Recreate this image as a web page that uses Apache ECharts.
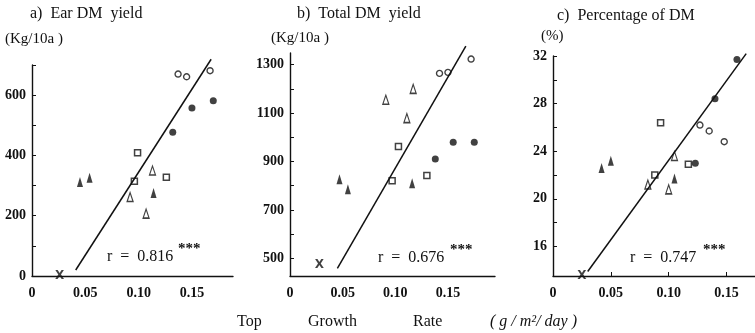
<!DOCTYPE html>
<html><head><meta charset="utf-8">
<script src="https://cdn.jsdelivr.net/npm/echarts@6/dist/echarts.min.js"></script>
<style>html,body{margin:0;padding:0;background:#fff}#c{width:755px;height:333px}</style>
</head><body><div id="c"></div>
<script>
// ---- tick labels ----
const xTicks = [0, 0.05, 0.10, 0.15];
const aYLabels = [0, 200, 400, 600];
const aYTicks = [0, 100, 200, 300, 400, 500, 600, 700];
const bYLabels = [500, 700, 900, 1100, 1300];
const bYTicks = [500, 600, 700, 800, 900, 1000, 1100, 1200, 1300];
const cYLabels = [16, 20, 24, 28, 32];
const cYTicks = [16, 18, 20, 22, 24, 26, 28, 30, 32];

// ---- a) Ear DM yield (kg/10a) vs top growth rate ----
const aOpenCircle = [[0.137, 670], [0.145, 661], [0.167, 681]];
const aFilledCircle = [[0.132, 477], [0.150, 557], [0.170, 581]];
const aOpenSquare = [[0.096, 314], [0.099, 409], [0.126, 328]];
const aOpenTriangle = [[0.092, 262], [0.107, 207], [0.113, 350]];
const aFilledTriangle = [[0.045, 312], [0.054, 326], [0.114, 275]];
const aCross = [[0.026, 0]];
const aFit = [[0.041, 20], [0.168, 719]];

// ---- b) Total DM yield (kg/10a) ----
const bOpenCircle = [[0.142, 1264], [0.150, 1268], [0.172, 1323]];
const bFilledCircle = [[0.138, 910], [0.155, 979], [0.175, 979]];
const bOpenSquare = [[0.097, 820], [0.103, 962], [0.130, 842]];
const bOpenTriangle = [[0.091, 1155], [0.111, 1079], [0.117, 1200]];
const bFilledTriangle = [[0.047, 827], [0.055, 785], [0.116, 810]];
const bCross = [[0.028, 472]];
const bFit = [[0.045, 459], [0.167, 1376]];

// ---- c) Percentage of DM (%) ----
const cOpenCircle = [[0.127, 26.2], [0.135, 25.7], [0.148, 24.8]];
const cFilledCircle = [[0.123, 23.0], [0.140, 28.4], [0.159, 31.7]];
const cOpenSquare = [[0.088, 22.0], [0.093, 26.4], [0.117, 22.9]];
const cOpenTriangle = [[0.082, 21.2], [0.100, 20.8], [0.105, 23.6]];
const cFilledTriangle = [[0.042, 22.6], [0.050, 23.2], [0.105, 21.7]];
const cCross = [[0.025, 13.55]];
const cFit = [[0.030, 13.9], [0.167, 32.2]];

const INK = '#111';
const FONT = 'Liberation Serif';
const TRI = 'path://M5,0L10,16L0,16Z';

function grid(left, top, width, height) { return { left, top, width, height }; }

function xAxis(i, max, ticks) {
  return {
    type: 'value', gridIndex: i, min: 0, max: max,
    axisLine: { show: true, onZero: false, lineStyle: { color: INK, width: 1.4 } },
    axisTick: ticks ? { show: true, inside: true, length: 4, customValues: xTicks.slice(1), lineStyle: { color: INK } } : { show: false },
    splitLine: { show: false },
    axisLabel: {
      customValues: xTicks, margin: 10, color: INK, fontFamily: FONT, fontSize: 14, fontWeight: 'bold',
      formatter: v => v === 0 ? '0' : v.toFixed(2)
    }
  };
}
function yAxis(i, min, max, labels, ticks) {
  return {
    type: 'value', gridIndex: i, min, max,
    axisLine: { show: true, onZero: false, lineStyle: { color: INK, width: 1.4 } },
    axisTick: { show: true, inside: true, length: 4, customValues: ticks, lineStyle: { color: INK } },
    splitLine: { show: false },
    axisLabel: { customValues: labels, margin: 6, color: INK, fontFamily: FONT, fontSize: 14, fontWeight: 'bold',
      formatter: v => String(v) }
  };
}

function panelSeries(i, oc, fc, os, ot, ft, cross, fit) {
  const base = { type: 'scatter', xAxisIndex: i, yAxisIndex: i, clip: false, animation: false };
  return [
    { ...base, data: oc, symbol: 'circle', symbolSize: 6, itemStyle: { color: '#fff', borderColor: INK, borderWidth: 1.4 } },
    { ...base, data: fc, symbol: 'circle', symbolSize: 7, itemStyle: { color: INK } },
    { ...base, data: os, symbol: 'rect', symbolSize: 6, itemStyle: { color: '#fff', borderColor: INK, borderWidth: 1.5 } },
    { ...base, data: ot, symbol: TRI, symbolSize: [6, 9], itemStyle: { color: '#fff', borderColor: INK, borderWidth: 1.3 } },
    { ...base, data: ft, symbol: TRI, symbolSize: [6, 10], itemStyle: { color: INK } },
    { ...base, data: cross, symbolSize: 1, itemStyle: { color: 'rgba(0,0,0,0)' },
      label: { show: true, position: 'inside', formatter: 'X', color: INK, fontFamily: 'DejaVu Sans', fontSize: 12, fontWeight: 'bold' } },
    { type: 'line', xAxisIndex: i, yAxisIndex: i, data: fit, clip: false, symbol: 'none', animation: false,
      lineStyle: { color: INK, width: 1.5 } }
  ];
}

function txt(left, top, text, font) {
  return { type: 'text', left, top, style: { text, fill: INK, font } };
}
const T16 = '16px "' + FONT + '"';
const T15 = '15px "' + FONT + '"';
const R15 = '16px "' + FONT + '"';
const STAR = 'bold 15px "' + FONT + '"';

const chart = echarts.init(document.getElementById('c'), null, { renderer: 'canvas' });
chart.setOption({
  backgroundColor: '#fff',
  animation: false,
  grid: [grid(32, 65, 201, 211), grid(290, 53, 205, 223), grid(553, 56, 202, 220)],
  xAxis: [xAxis(0, 0.1885, false), xAxis(1, 0.1947, false), xAxis(2, 0.1746, true)],
  yAxis: [
    yAxis(0, 0, 700, aYLabels, aYTicks),
    yAxis(1, 427, 1348, bYLabels, bYTicks),
    yAxis(2, 13.52, 32, cYLabels, cYTicks)
  ],
  series: [
    ...panelSeries(0, aOpenCircle, aFilledCircle, aOpenSquare, aOpenTriangle, aFilledTriangle, aCross, aFit),
    ...panelSeries(1, bOpenCircle, bFilledCircle, bOpenSquare, bOpenTriangle, bFilledTriangle, bCross, bFit),
    ...panelSeries(2, cOpenCircle, cFilledCircle, cOpenSquare, cOpenTriangle, cFilledTriangle, cCross, cFit)
  ],
  graphic: [
    txt(30, 6, 'a)  Ear DM  yield', T16),
    txt(5, 32, '(Kg/10a )', T15),
    txt(297, 6, 'b)  Total DM  yield', T16),
    txt(271, 31, '(Kg/10a )', T15),
    txt(557, 8, 'c)  Percentage of DM', T16),
    txt(541, 29, '(%)', T15),
    txt(107, 249, 'r  =  0.816', R15),
    txt(178, 242, '***', STAR),
    txt(378, 250, 'r  =  0.676', R15),
    txt(450, 243, '***', STAR),
    txt(630, 250, 'r  =  0.747', R15),
    txt(703, 243, '***', STAR),
    txt(237, 314, 'Top', T16),
    txt(308, 314, 'Growth', T16),
    txt(413, 314, 'Rate', T16),
    txt(490, 314, '( g / m\u00B2/ day )', 'italic 16px "' + FONT + '"')
  ]
});
</script></body></html>
